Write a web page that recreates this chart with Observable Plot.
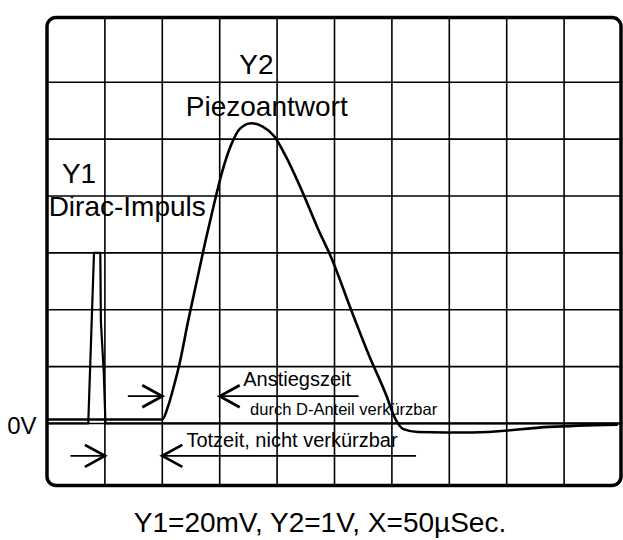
<!DOCTYPE html>
<html>
<head>
<meta charset="utf-8">
<script src="https://cdn.jsdelivr.net/npm/d3@7"></script>
<script src="https://cdn.jsdelivr.net/npm/@observablehq/plot@0.6"></script>
<style>
  html, body { margin: 0; padding: 0; background: #fff; }
  #wrap { position: relative; width: 623px; height: 540px; }
  #caption {
    position: absolute; left: 0; width: 640px; top: 509px;
    text-align: center; font: 28px/28px 'Liberation Sans', Arial, Helvetica, sans-serif;
    color: #000; white-space: nowrap;
  }
</style>
</head>
<body>
<div id="wrap">
  <div id="chart"></div>
  <div id="caption">Y1=20mV, Y2=1V, X=50µSec.</div>
</div>
<script>
// Oscilloscope screen: 10 × 8 divisions, X = 50 µs/div, Y1 = 20 mV/div, Y2 = 1 V/div.
const usPerDiv = 50;
const mvPerDivY1 = 20;
const vPerDivY2 = 1;

// Y1: Dirac pulse (time in µs, amplitude in mV)
const y1Time = [0, 35.5, 40.5, 46, 46.5, 49, 50.5, 500];
const y1Millivolts = [0, 0, 60, 60, 36, 18, 0, 0];

// Y2: piezo response (time in µs, amplitude in V)
const y2Time = [0, 100, 105, 110, 115, 122.5, 130, 137.5, 145, 152.5, 160, 167.5, 177.5,
  187.5, 197.5, 207.5, 222.5, 235, 247.5, 265, 280, 295, 302.5, 310, 322.5, 370, 437.5, 496];
const y2Volts = [0.07, 0.07, 0.3, 0.65, 1.05, 1.8, 2.5, 3.2, 3.85, 4.45, 4.9, 5.18, 5.28,
  5.22, 5.05, 4.7, 4.05, 3.45, 2.9, 1.97, 1.2, 0.5, 0.1, -0.1, -0.15, -0.16, -0.06, -0.02];

// Marked time intervals (µs)
const intervalNames = ["Totzeit", "Anstiegszeit"];
const intervalStart = [50, 100];
const intervalEnd = [100, 150];

// Grid divisions
const gridX = d3.range(1, 10).map(d => d * usPerDiv);
const gridY = d3.range(0, 7);

const fontFamily = "'Liberation Sans', Arial, Helvetica, sans-serif";

const y1 = y1Time.map((t, i) => ({t, div: y1Millivolts[i] / mvPerDivY1}));
const y2 = y2Time.map((t, i) => ({t, div: y2Volts[i] / vPerDivY2}));

// Arrow layout for each interval: an inward arrow on the left and a long
// underline arrow on the right that carries the label.
const arrowLayout = {
  Totzeit: {level: -0.57, leadIn: 30, tail: 221},
  Anstiegszeit: {level: 0.48, leadIn: 30, tail: 121}
};
const arrowsIn = intervalNames.map((name, i) => ({
  from: intervalStart[i] - arrowLayout[name].leadIn, to: intervalStart[i], level: arrowLayout[name].level
}));
const arrowsBack = intervalNames.map((name, i) => ({
  from: intervalEnd[i] + arrowLayout[name].tail, to: intervalEnd[i], level: arrowLayout[name].level
}));

// Open chevron arrowheads, tip at the anchor point
const chevronRight = {draw(ctx, size) {
  const r = Math.sqrt(size / Math.PI);
  ctx.moveTo(-r, -0.55 * r); ctx.lineTo(0, 0); ctx.lineTo(-r, 0.55 * r);
}};
const chevronLeft = {draw(ctx, size) {
  const r = Math.sqrt(size / Math.PI);
  ctx.moveTo(r, -0.55 * r); ctx.lineTo(0, 0); ctx.lineTo(r, 0.55 * r);
}};

const label = (text, x, y, fontSize, textAnchor = "middle", extra = {}) =>
  Plot.text([text], {x, y, text: d => d, fontSize, textAnchor, lineAnchor: "bottom",
    fill: "black", fontFamily, ...extra});

const chart = Plot.plot({
  width: 623,
  height: 490,
  marginLeft: 47,
  marginRight: 2,
  marginTop: 17.5,
  marginBottom: 4.5,
  x: {domain: [0, 500], axis: null},
  y: {domain: [-1.1, 7.13], axis: null},
  style: {background: "white", fontFamily},
  marks: [
    Plot.ruleX(gridX, {stroke: "black", strokeWidth: 1.6}),
    Plot.ruleY(gridY, {stroke: "black", strokeWidth: 1.6}),
    Plot.line(y1, {x: "t", y: "div", stroke: "black", strokeWidth: 2.2, strokeLinejoin: "round"}),
    Plot.line(y2, {x: "t", y: "div", stroke: "black", strokeWidth: 2.6, curve: "monotone-x"}),
    Plot.rect([0], {x1: 0, x2: 500, y1: -1.1, y2: 7.13, rx: 9, fill: "none",
      stroke: "black", strokeWidth: 3.5}),
    // interval arrows
    Plot.link(arrowsIn, {x1: "from", x2: "to", y1: "level", y2: "level", stroke: "black", strokeWidth: 1.8}),
    Plot.dot(arrowsIn, {x: "to", y: "level", symbol: chevronRight, r: 20, fill: "none",
      stroke: "black", strokeWidth: 2.8, strokeLinejoin: "miter"}),
    Plot.link(arrowsBack, {x1: "from", x2: "to", y1: "level", y2: "level", stroke: "black", strokeWidth: 1.8}),
    Plot.dot(arrowsBack, {x: "to", y: "level", symbol: chevronLeft, r: 20, fill: "none",
      stroke: "black", strokeWidth: 2.8, strokeLinejoin: "miter"}),
    // labels
    label("Y2", 182, 6.15, 28),
    label("Piezoantwort", 191, 5.40, 28),
    label("Y1", 27.5, 4.22, 28),
    label("Dirac-Impuls", 1, 3.64, 28, "start"),
    label("0V", 0, -0.19, 24, "end", {dx: -11}),
    label("Anstiegszeit", 170.5, 0.65, 20, "start"),
    label("durch D-Anteil verkürzbar", 176.5, 0.15, 16.5, "start"),
    label("Totzeit, nicht verkürzbar", 121, -0.42, 20, "start")
  ]
});

document.getElementById("chart").append(chart);
</script>
</body>
</html>
